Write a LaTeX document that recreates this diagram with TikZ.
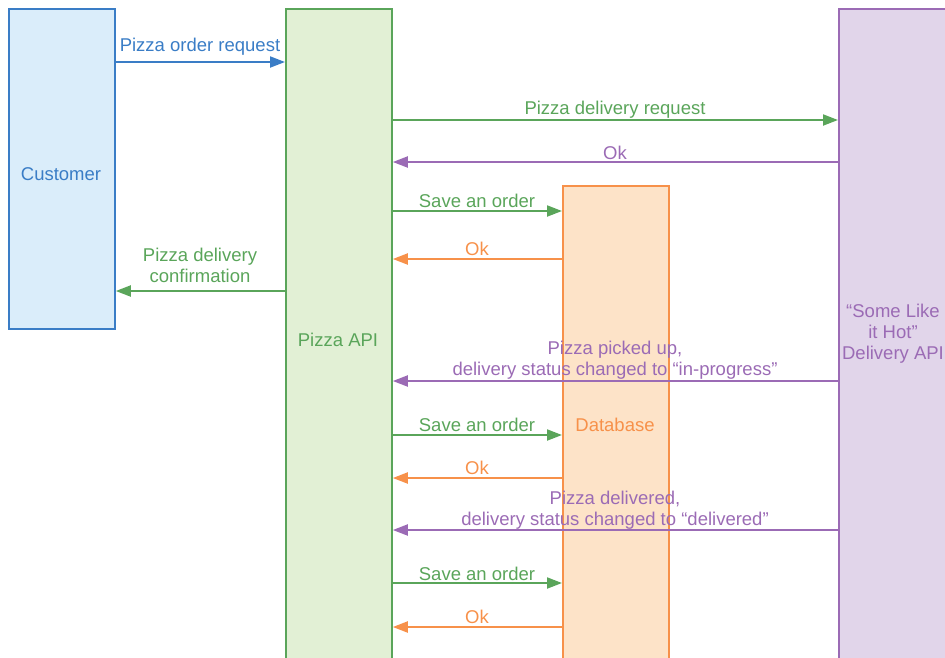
\documentclass[tikz,border=0pt]{standalone}
\usepackage{fontspec}
\setmainfont{Liberation Sans}
\usetikzlibrary{arrows.meta}
\definecolor{bstroke}{HTML}{3A7DC6}
\definecolor{bfill}{HTML}{DAEDFA}
\definecolor{gstroke}{HTML}{5AA55A}
\definecolor{gfill}{HTML}{E2F0D5}
\definecolor{ostroke}{HTML}{F7914A}
\definecolor{ofill}{HTML}{FDE3C8}
\definecolor{pstroke}{HTML}{9B6BB5}
\definecolor{pfill}{HTML}{E1D5EA}
\tikzset{
  lane/.style={draw, line width=1.8pt, anchor=north west, inner sep=0pt},
  msg/.style={line width=2pt, -{Triangle[length=15pt,width=11pt]}},
  lbl/.style={font=\fontsize{18.5}{21}\selectfont, align=center, inner sep=0pt, yshift=-2pt},
}
\begin{document}
\begin{tikzpicture}[x=1pt,y=-1pt]
\useasboundingbox (0,0) rectangle (945,657);
\clip (0,0) rectangle (945,657);
% lanes
\node[lane, draw=bstroke, fill=bfill, minimum width=106pt, minimum height=320pt] (cust) at (8,8) {};
\node[lane, draw=gstroke, fill=gfill, minimum width=106pt, minimum height=670pt] (api) at (285,8) {};
\node[lane, draw=ostroke, fill=ofill, minimum width=106pt, minimum height=490pt] (db) at (562,185) {};
\node[lane, draw=pstroke, fill=pfill, minimum width=120pt, minimum height=670pt] (dlv) at (838,8) {};
% lane titles
\node[lbl, text=bstroke] (custt) at (61,172) {Customer};
\node[lbl, text=gstroke] (apit) at (338,338) {Pizza API};
\node[lbl, text=ostroke] (dbt) at (615,423) {Database};
\node[lbl, text=pstroke] (dlvt) at (893,332) {“Some Like\\it Hot”\\Delivery API};
% messages
\draw[msg, bstroke] (cust.east |- 0,62) -- (api.west |- 0,62);
\node[lbl, text=bstroke] (m1) at (200,45) {Pizza order request};

\draw[msg, gstroke] (api.east |- 0,120) -- (dlv.west |- 0,120);
\node[lbl, text=gstroke] (m2) at (615,108) {Pizza delivery request};

\draw[msg, pstroke] (dlv.west |- 0,162) -- (api.east |- 0,162);
\node[lbl, text=pstroke] (m3) at (615,151) {Ok};

\draw[msg, gstroke] (api.east |- 0,211) -- (db.west |- 0,211);
\node[lbl, text=gstroke] (m4) at (477,199) {Save an order};

\draw[msg, ostroke] (db.west |- 0,259) -- (api.east |- 0,259);
\node[lbl, text=ostroke] (m5) at (477,247) {Ok};

\draw[msg, gstroke] (api.west |- 0,291) -- (cust.east |- 0,291);
\node[lbl, text=gstroke] (m6) at (200,263) {Pizza delivery\\confirmation};

\draw[msg, pstroke] (dlv.west |- 0,381) -- (api.east |- 0,381);
\node[lbl, text=pstroke] (m7) at (615,358) {Pizza picked up,\\delivery status changed to “in-progress”};

\draw[msg, gstroke] (api.east |- 0,435) -- (db.west |- 0,435);
\node[lbl, text=gstroke] (m8) at (477,423) {Save an order};

\draw[msg, ostroke] (db.west |- 0,478) -- (api.east |- 0,478);
\node[lbl, text=ostroke] (m9) at (477,466) {Ok};

\draw[msg, pstroke] (dlv.west |- 0,530) -- (api.east |- 0,530);
\node[lbl, text=pstroke] (m10) at (615,508) {Pizza delivered,\\delivery status changed to “delivered”};

\draw[msg, gstroke] (api.east |- 0,583) -- (db.west |- 0,583);
\node[lbl, text=gstroke] (m11) at (477,572) {Save an order};

\draw[msg, ostroke] (db.west |- 0,627) -- (api.east |- 0,627);
\node[lbl, text=ostroke] (m12) at (477,615) {Ok};
\end{tikzpicture}
\end{document}
